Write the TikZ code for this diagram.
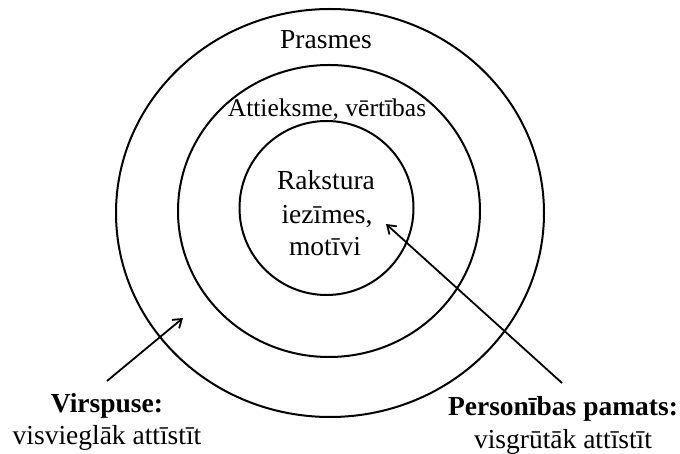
\documentclass[tikz,border=0pt]{standalone}
\usepackage{fontspec}
\setmainfont{Liberation Serif}
\usetikzlibrary{shapes.geometric,arrows.meta}

\begin{document}
\begin{tikzpicture}[x=1pt,y=-1pt,
  ring/.style={draw, ellipse, line width=2pt, inner sep=0pt, outer sep=0pt},
  lbl/.style={anchor=base, inner sep=0pt, font=\fontsize{27.5pt}{32.5pt}\selectfont},
  pointer/.style={line width=1.8pt, -{Straight Barb[length=8pt,width=11pt]}}]
  \useasboundingbox (0,0) rectangle (680,454);

  % three concentric layers
  \node[ring, minimum width=428pt, minimum height=408pt] (outer) at (330,213) {};
  \node[ring, minimum width=302pt, minimum height=292pt] (middle) at (329,211) {};
  \node[ring, minimum width=174pt, minimum height=174pt] (inner) at (326.5,208) {};

  % layer labels
  \node[lbl] (prasmes) at (326,49) {Prasmes};
  \node[lbl, font=\fontsize{25.5pt}{30pt}\selectfont] (attieksme) at (327,117) {Attieksme, vērtības};
  \node[lbl] (l1) at (326,190) {Rakstura};
  \node[lbl] (l2) at (327,224) {iezīmes,};
  \node[lbl] (l3) at (325,256) {motīvi};

  % captions
  \node[lbl] (virs) at (107,412) {\bfseries Virspuse:};
  \node[lbl] (virsd) at (107,444) {visvieglāk attīstīt};
  \node[lbl] (pamats) at (563,415) {\bfseries Personības pamats:};
  \node[lbl] (pamatsd) at (563,448) {visgrūtāk attīstīt};

  % pointers
  \coordinate (vtail) at (107,381);
  \coordinate (vhead) at (183,318);
  \coordinate (ptail) at (562,383);
  \coordinate (phead) at (386,224);
  \draw[pointer] (vtail) -- (vhead);
  \draw[pointer] (ptail) -- (phead);
\end{tikzpicture}
\end{document}
